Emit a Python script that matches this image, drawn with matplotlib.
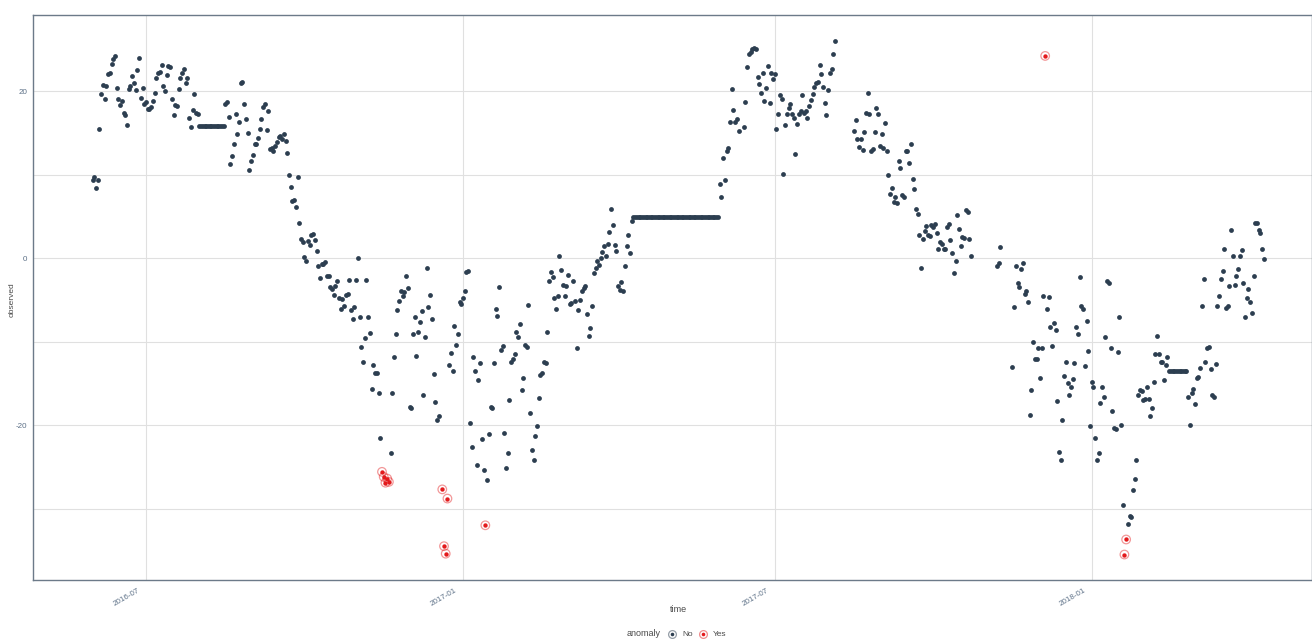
import numpy as np
import pandas as pd
import matplotlib
matplotlib.use("Agg")
import matplotlib.pyplot as plt
import matplotlib.dates as mdates
import matplotlib.transforms as mtransforms
from matplotlib.lines import Line2D

plt.rcParams["font.family"] = ["Liberation Sans", "DejaVu Sans"]
plt.rcParams["axes.unicode_minus"] = False

# daily observations, stored as runs of consecutive days
run_starts = ["2016-05-31", "2016-12-20", "2017-06-13", "2017-08-16", "2017-11-07", "2017-11-16"]

run_1 = ([9.3, 9.7, 8.4, 9.4, 15.5, 19.6, 20.7, 19.0, 20.6, 22.0,
          22.1, 23.2, 23.8, 24.2, 20.3, 19.1, 18.3, 18.8, 17.4, 17.1,
          15.9, 20.2, 20.6, 21.8, 21.0, 20.1, 22.5, 24.0, 19.2, 20.3,
          18.5, 18.7, 17.8, 17.9, 18.1, 18.8, 19.8, 21.5, 22.1, 22.3,
          23.1, 20.6, 20.0, 21.9, 23.0, 22.9, 19.0, 17.1, 18.3, 18.2,
          20.2, 21.5, 22.2, 22.6, 20.9, 21.6, 16.8, 15.7, 17.7, 19.6,
          17.4, 17.2]
         + [15.75] * 15
         + [18.5, 18.7, 16.9, 11.3, 12.2, 13.7, 17.3, 14.8, 16.3, 20.9,
            21.1, 18.5, 16.6, 15.0, 10.6, 11.6, 12.3, 13.7, 13.7, 14.4,
            15.5, 16.7, 18.1, 18.5, 15.3, 17.6, 13.1, 13.2, 12.8, 13.4,
            13.9, 14.5, 14.6, 14.2, 14.9, 14.0, 12.6, 10.0, 8.5, 6.8,
            6.9, 6.1, 9.7, 4.2, 2.3, 1.9, 0.1, -0.4, 2.0, 1.6,
            2.7, 2.9, 2.2, 0.8, -1.0]
         + [-2.4, -0.7, -0.7, -0.5, -2.2, -2.1, -3.5, -3.7, -4.4, -3.3,
            -2.8, -4.8, -6.1, -4.9, -5.7, -4.4, -4.3, -2.6, -6.2, -7.3,
            -5.9, -2.6, 0.0, -7.1, -10.6, -12.4, -9.6, -2.6, -7.1, -9.0,
            -15.7, -12.8, -13.8, -13.8, -16.1, -21.5, -25.6, -26.2, -26.9, -26.4,
            -26.8, -23.3, -16.2, -11.8, -9.1, -6.2, -5.2, -3.9, -4.5, -4.1,
            -2.1, -3.6, -17.8, -18.0, -9.1, -7.1, -11.7, -8.8]
         + [-7.7, -6.3, -16.4, -9.5, -1.2, -5.9, -4.4, -7.3, -13.9, -17.2,
            -19.4, -18.9])

run_2 = ([-27.7, -34.5, -35.4, -28.8]
         + [-12.8, -11.4, -13.5, -8.1, -10.4, -9.1, -5.3, -5.5, -4.8, -3.9,
            -1.7, -1.5, -19.7, -22.6, -11.8, -13.5, -24.8, -14.6, -12.6, -21.7,
            -25.4, -32.0, -26.6, -21.1, -17.8, -17.9, -12.6, -6.1, -6.9, -3.5,
            -11.0, -10.5, -20.9, -25.1, -23.3, -17.0, -12.4, -12.1, -11.5, -8.8,
            -9.4, -7.9, -15.8, -14.4, -10.4, -10.6, -5.6, -18.5, -23.0, -24.2,
            -21.3, -20.1, -16.7, -14.0, -13.8, -12.4, -12.6, -8.8, -2.7]
         + [-1.7, -2.3, -4.8, -6.1, -4.6, 0.3, -1.4, -3.2, -4.5, -3.4,
            -2.0, -5.5, -5.4, -2.7, -5.1, -10.8, -6.2, -5.0, -4.0, -3.6,
            -3.3, -6.7, -9.3, -8.4, -5.7, -1.8, -1.2, -0.4, -0.8, 0.0,
            0.7, 1.4, 0.2, 1.7, 3.1, 5.9, 4.0, 1.6, 0.8, -3.4,
            -3.8, -2.9, -4.0, -1.0, 1.5, 2.8, 0.6, 4.4]
         + [4.94] * 50
         + [8.9, 7.3, 12.0, 9.3, 12.8, 13.2, 16.3, 20.2, 17.7, 16.3,
            16.7, 15.2])

run_3 = [15.7, 18.7, 22.9, 24.4, 24.7, 25.0, 25.2, 25.0, 21.7, 20.8,
         19.8, 22.1, 18.8, 20.3, 23.0, 18.6, 22.2, 21.4, 22.0, 15.4,
         17.2, 19.5, 19.1, 10.1, 15.9, 17.2, 18.0, 18.5, 17.3, 16.8,
         12.4, 16.1, 17.3, 17.6, 19.5, 17.4, 17.6, 16.8, 18.2, 18.9,
         19.7, 20.5, 20.9, 21.1, 23.1, 22.0, 20.5, 18.6, 17.1, 20.1,
         22.2, 22.6, 24.4, 26.0]

run_4 = [15.2, 16.5, 14.2, 13.3, 14.2, 12.9, 15.1, 17.4, 19.8, 17.3,
         12.8, 13.0, 15.1, 18.0, 17.2, 13.4, 14.8, 13.2, 16.2, 12.8,
         10.0, 7.7, 8.4, 6.7, 7.3, 6.6, 11.6, 10.8, 7.5, 7.3,
         12.8, 12.8, 11.4, 13.6, 9.5, 8.3, 5.9, 5.3, 2.8, -1.2,
         2.3, 3.2, 3.8, 2.8, 2.6, 3.9, 3.7, 4.1, 3.0, 1.1,
         1.9, 1.7, 1.1, 1.1, 3.7, 4.1, 2.2, 0.6, -1.8, -0.3,
         5.1, 3.5, 1.5, 2.5, 2.4, 5.8, 5.5, 2.3, 0.3]

run_5 = [-1.0, -0.6, 1.3]

run_6 = ([-13.1, -5.9, -0.9, -3.0, -3.5, -1.3, -0.6, -4.3, -4.0, -5.3,
          -18.8, -15.8, -10.1, -12.1, -12.1, -10.8, -14.4, -10.8, -4.6, 24.2,
          -6.1, -4.7, -8.3, -10.5, -7.8, -8.6, -17.1, -23.2, -24.2, -19.4,
          -14.1, -12.5, -15.0, -16.4, -15.4, -14.5, -12.6, -8.3, -9.1, -2.3,
          -5.7, -6.1, -12.9, -7.5, -11.1, -20.1, -14.8, -15.4, -21.5, -24.2,
          -23.4, -17.3]
         + [-15.4, -16.6, -9.4, -2.8, -3.0, -10.8, -18.3, -20.3, -20.5, -11.3,
            -7.1, -20.0, -29.6, -35.5, -33.7, -31.9, -30.9, -31.0, -27.8, -26.4,
            -24.2, -16.4, -15.8, -15.9, -17.0, -16.9, -15.4, -16.9, -18.9, -17.9,
            -14.9, -11.5, -9.3, -11.5, -12.5, -12.5, -14.6, -12.8, -11.9]
         + [-13.56] * 11
         + [-16.6, -20.0, -16.1, -15.7, -17.5, -14.4, -14.3, -13.2, -5.7, -2.5,
            -12.4, -10.8, -10.6, -13.3, -16.4, -16.6, -12.7, -5.7, -4.6, -2.5,
            -1.6, 1.1, -6.0, -5.7, -3.3, 3.4, 0.2, -3.2, -2.2, -1.3,
            0.2, 1.0, -3.0, -7.1, -4.8, -3.7, -5.3, -6.6, -2.1, 4.2,
            4.2, 3.3, 3.0, 1.1, -0.1])

runs = [run_1, run_2, run_3, run_4, run_5, run_6]

anomaly_dates = ["2016-11-15", "2016-11-16", "2016-11-17", "2016-11-18", "2016-11-19",
                 "2016-12-20", "2016-12-21", "2016-12-22", "2016-12-23",
                 "2017-01-14", "2017-12-05", "2018-01-20", "2018-01-21"]

x_breaks = ["2016-07-01", "2017-01-01", "2017-07-01", "2018-01-01"]

frames = []
for start, vals in zip(run_starts, runs):
    frames.append(pd.DataFrame({"time": pd.date_range(start, periods=len(vals), freq="D"),
                                "observed": vals}))
df = pd.concat(frames, ignore_index=True)
df["anomaly"] = np.where(df["time"].isin(pd.to_datetime(anomaly_dates)), "Yes", "No")

col_no = "#2c3e50"
col_yes = "#e31a1c"
text_col = "#5b6f86"
W, H = 1312, 639

fig = plt.figure(figsize=(W / 100, H / 100), dpi=100)
ax = fig.add_axes([33 / W, 59 / H, 1 - 33 / W, 565 / H])

no = df[df["anomaly"] == "No"]
yes = df[df["anomaly"] == "Yes"]
ax.scatter(no["time"], no["observed"], s=12, color=col_no, linewidths=0, zorder=3)
ax.scatter(yes["time"], yes["observed"], s=10, color=col_yes, linewidths=0, zorder=4)
ax.scatter(yes["time"], yes["observed"], s=38, facecolors="none", edgecolors=col_yes,
           alpha=0.45, linewidths=0.9, zorder=4)

t0 = pd.Timestamp("2016-07-01")
ax.set_xlim(t0 + pd.Timedelta(days=-65.6), t0 + pd.Timedelta(days=676.9))
ax.set_ylim(-38.55, 29.1)

ax.set_xticks(pd.to_datetime(x_breaks))
ax.xaxis.set_major_formatter(mdates.DateFormatter("%Y-%m"))
ax.set_yticks([-20, 0, 20])
ax.set_yticks([-30, -10, 10], minor=True)
ax.grid(True, which="both", color="#e0e0e0", linewidth=0.8, zorder=0)
ax.set_axisbelow(True)

ax.tick_params(axis="both", which="both", length=0, labelsize=5.8, labelcolor=text_col)
ax.tick_params(axis="y", pad=4)
ax.tick_params(axis="x", pad=5)
shift = mtransforms.ScaledTranslation(-5 / 100, 0, fig.dpi_scale_trans)
for lbl in ax.get_xticklabels():
    lbl.set_rotation(30)
    lbl.set_ha("right")
    lbl.set_va("top")
    lbl.set_transform(lbl.get_transform() + shift)

for side in ["left", "bottom", "top", "right"]:
    ax.spines[side].set_color("#6c7a89")
    ax.spines[side].set_linewidth(1.0)

fig.text(12 / W, 1 - 300 / H, "observed", rotation=90, ha="center", va="center",
         fontsize=6, color="#4a4a4a")
fig.text(678 / W, 1 - 610 / H, "time", ha="center", va="center", fontsize=6.5, color="#4a4a4a")

# legend along the bottom
ly = 1 - 634 / H
fig.text(661 / W, ly, "anomaly", ha="right", va="center", fontsize=6.5, color="#4a4a4a")
for xm, col, lab in [(672, col_no, "No"), (703, col_yes, "Yes")]:
    fig.add_artist(Line2D([xm / W], [ly], transform=fig.transFigure, marker="o",
                          markersize=2.6, color=col, markeredgewidth=0))
    fig.add_artist(Line2D([xm / W], [ly], transform=fig.transFigure, marker="o",
                          markersize=5.6, markerfacecolor="none", markeredgecolor=col,
                          alpha=0.5, markeredgewidth=0.9))
    fig.text((xm + 10) / W, ly, lab, ha="left", va="center", fontsize=6, color="#4a4a4a")

fig.savefig("out.png", dpi=100)
